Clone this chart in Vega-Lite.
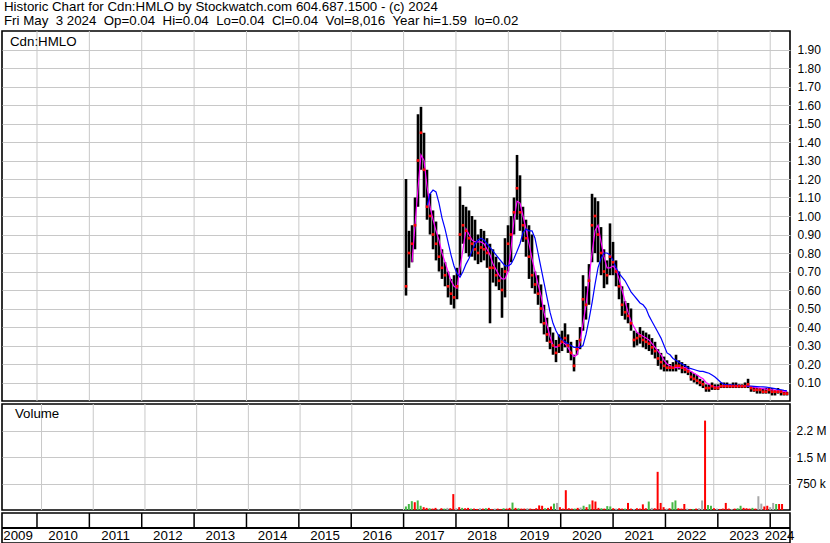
{
  "$schema": "https://vega.github.io/schema/vega-lite/v6.json",
  "padding": 0,
  "background": "white",
  "spacing": 3,
  "bounds": "flush",
  "title": {
    "text": ["Historic Chart for Cdn:HMLO by Stockwatch.com 604.687.1500 - (c) 2024", "Fri May\u00a0\u00a03 2024\u00a0\u00a0Op=0.04\u00a0\u00a0Hi=0.04\u00a0\u00a0Lo=0.04\u00a0\u00a0Cl=0.04\u00a0\u00a0Vol=8,016\u00a0\u00a0Year hi=1.59\u00a0\u00a0lo=0.02"],
    "anchor": "start", "frame": "group", "fontSize": 13.3, "fontWeight": "normal", "font": "Liberation Sans",
    "lineHeight": 14, "offset": 2, "dx": 2, "color": "#000000"
  },
  "datasets": {
    "px": [
      {"t":2017.046,"hi":1.20,"lo":0.57,"cl":0.62,"m1":null,"m2":null,"v":100000,"vc":"g"},
      {"t":2017.103,"hi":0.92,"lo":0.72,"cl":0.80,"m1":null,"m2":null,"v":170000,"vc":"g"},
      {"t":2017.161,"hi":0.95,"lo":0.75,"cl":0.85,"m1":0.75,"m2":null,"v":250000,"vc":"g"},
      {"t":2017.218,"hi":1.10,"lo":0.82,"cl":0.95,"m1":0.95,"m2":null,"v":220000,"vc":"r"},
      {"t":2017.275,"hi":1.55,"lo":1.05,"cl":1.30,"m1":1.15,"m2":null,"v":270000,"vc":"g"},
      {"t":2017.332,"hi":1.59,"lo":1.25,"cl":1.45,"m1":1.33,"m2":null,"v":120000,"vc":"g"},
      {"t":2017.390,"hi":1.45,"lo":1.10,"cl":1.25,"m1":1.30,"m2":null,"v":80000,"vc":"r"},
      {"t":2017.447,"hi":1.25,"lo":0.98,"cl":1.05,"m1":1.16,"m2":1.05,"v":60000,"vc":"r"},
      {"t":2017.504,"hi":1.12,"lo":0.90,"cl":1.00,"m1":1.05,"m2":1.12,"v":50000,"vc":"g"},
      {"t":2017.562,"hi":1.03,"lo":0.82,"cl":0.90,"m1":0.98,"m2":1.14,"v":40000,"vc":"r"},
      {"t":2017.619,"hi":0.97,"lo":0.76,"cl":0.85,"m1":0.92,"m2":1.13,"v":60000,"vc":"r"},
      {"t":2017.676,"hi":0.90,"lo":0.70,"cl":0.78,"m1":0.87,"m2":1.07,"v":30000,"vc":"n"},
      {"t":2017.733,"hi":0.82,"lo":0.66,"cl":0.72,"m1":0.80,"m2":0.99,"v":50000,"vc":"r"},
      {"t":2017.791,"hi":0.75,"lo":0.62,"cl":0.68,"m1":0.75,"m2":0.93,"v":40000,"vc":"g"},
      {"t":2017.848,"hi":0.70,"lo":0.56,"cl":0.62,"m1":0.70,"m2":0.86,"v":60000,"vc":"n"},
      {"t":2017.905,"hi":0.66,"lo":0.52,"cl":0.58,"m1":0.65,"m2":0.79,"v":50000,"vc":"r"},
      {"t":2017.963,"hi":0.68,"lo":0.50,"cl":0.56,"m1":0.62,"m2":0.73,"v":450000,"vc":"r"},
      {"t":2018.020,"hi":0.72,"lo":0.55,"cl":0.62,"m1":0.61,"m2":0.69,"v":50000,"vc":"n"},
      {"t":2018.077,"hi":1.16,"lo":0.68,"cl":0.90,"m1":0.72,"m2":0.67,"v":80000,"vc":"r"},
      {"t":2018.134,"hi":1.06,"lo":0.85,"cl":0.95,"m1":0.82,"m2":0.70,"v":60000,"vc":"g"},
      {"t":2018.192,"hi":1.05,"lo":0.80,"cl":0.92,"m1":0.93,"m2":0.74,"v":50000,"vc":"r"},
      {"t":2018.249,"hi":1.03,"lo":0.78,"cl":0.88,"m1":0.90,"m2":0.77,"v":60000,"vc":"r"},
      {"t":2018.306,"hi":1.00,"lo":0.78,"cl":0.85,"m1":0.87,"m2":0.81,"v":40000,"vc":"g"},
      {"t":2018.364,"hi":0.98,"lo":0.76,"cl":0.82,"m1":0.86,"m2":0.85,"v":40000,"vc":"r"},
      {"t":2018.421,"hi":0.90,"lo":0.74,"cl":0.80,"m1":0.86,"m2":0.87,"v":30000,"vc":"r"},
      {"t":2018.478,"hi":0.93,"lo":0.75,"cl":0.83,"m1":0.86,"m2":0.88,"v":50000,"vc":"n"},
      {"t":2018.535,"hi":0.92,"lo":0.76,"cl":0.82,"m1":0.85,"m2":0.87,"v":40000,"vc":"r"},
      {"t":2018.593,"hi":0.88,"lo":0.72,"cl":0.80,"m1":0.82,"m2":0.85,"v":50000,"vc":"g"},
      {"t":2018.650,"hi":0.85,"lo":0.42,"cl":0.72,"m1":0.79,"m2":0.83,"v":60000,"vc":"r"},
      {"t":2018.707,"hi":0.82,"lo":0.64,"cl":0.72,"m1":0.74,"m2":0.81,"v":30000,"vc":"r"},
      {"t":2018.765,"hi":0.78,"lo":0.62,"cl":0.68,"m1":0.71,"m2":0.79,"v":40000,"vc":"n"},
      {"t":2018.822,"hi":0.75,"lo":0.60,"cl":0.65,"m1":0.68,"m2":0.77,"v":40000,"vc":"r"},
      {"t":2018.879,"hi":0.72,"lo":0.45,"cl":0.60,"m1":0.66,"m2":0.75,"v":30000,"vc":"r"},
      {"t":2018.936,"hi":0.88,"lo":0.56,"cl":0.70,"m1":0.66,"m2":0.73,"v":50000,"vc":"g"},
      {"t":2018.994,"hi":0.95,"lo":0.70,"cl":0.85,"m1":0.70,"m2":0.73,"v":40000,"vc":"r"},
      {"t":2019.051,"hi":1.00,"lo":0.75,"cl":0.90,"m1":0.82,"m2":0.74,"v":60000,"vc":"r"},
      {"t":2019.108,"hi":1.10,"lo":0.90,"cl":1.02,"m1":0.98,"m2":0.77,"v":210000,"vc":"g"},
      {"t":2019.166,"hi":1.33,"lo":0.98,"cl":1.15,"m1":1.08,"m2":0.81,"v":60000,"vc":"r"},
      {"t":2019.223,"hi":1.22,"lo":0.92,"cl":1.02,"m1":1.07,"m2":0.85,"v":50000,"vc":"g"},
      {"t":2019.280,"hi":1.05,"lo":0.86,"cl":0.95,"m1":1.00,"m2":0.91,"v":40000,"vc":"r"},
      {"t":2019.337,"hi":0.98,"lo":0.78,"cl":0.88,"m1":0.93,"m2":0.93,"v":40000,"vc":"r"},
      {"t":2019.395,"hi":0.95,"lo":0.66,"cl":0.78,"m1":0.85,"m2":0.92,"v":50000,"vc":"n"},
      {"t":2019.452,"hi":0.90,"lo":0.61,"cl":0.68,"m1":0.77,"m2":0.92,"v":40000,"vc":"r"},
      {"t":2019.509,"hi":0.70,"lo":0.58,"cl":0.63,"m1":0.70,"m2":0.88,"v":30000,"vc":"r"},
      {"t":2019.567,"hi":0.68,"lo":0.52,"cl":0.58,"m1":0.63,"m2":0.80,"v":50000,"vc":"r"},
      {"t":2019.624,"hi":0.63,"lo":0.42,"cl":0.50,"m1":0.57,"m2":0.72,"v":130000,"vc":"r"},
      {"t":2019.681,"hi":0.52,"lo":0.36,"cl":0.42,"m1":0.48,"m2":0.64,"v":120000,"vc":"r"},
      {"t":2019.738,"hi":0.45,"lo":0.32,"cl":0.36,"m1":0.41,"m2":0.56,"v":50000,"vc":"g"},
      {"t":2019.796,"hi":0.40,"lo":0.28,"cl":0.32,"m1":0.35,"m2":0.48,"v":60000,"vc":"r"},
      {"t":2019.853,"hi":0.37,"lo":0.25,"cl":0.30,"m1":0.30,"m2":0.42,"v":100000,"vc":"r"},
      {"t":2019.910,"hi":0.33,"lo":0.21,"cl":0.26,"m1":0.29,"m2":0.38,"v":180000,"vc":"g"},
      {"t":2019.968,"hi":0.36,"lo":0.26,"cl":0.30,"m1":0.30,"m2":0.35,"v":200000,"vc":"n"},
      {"t":2020.025,"hi":0.38,"lo":0.27,"cl":0.32,"m1":0.32,"m2":0.33,"v":80000,"vc":"r"},
      {"t":2020.082,"hi":0.42,"lo":0.29,"cl":0.34,"m1":0.31,"m2":0.32,"v":40000,"vc":"r"},
      {"t":2020.139,"hi":0.36,"lo":0.26,"cl":0.30,"m1":0.29,"m2":0.31,"v":560000,"vc":"r"},
      {"t":2020.197,"hi":0.32,"lo":0.22,"cl":0.26,"m1":0.26,"m2":0.30,"v":50000,"vc":"r"},
      {"t":2020.254,"hi":0.25,"lo":0.16,"cl":0.19,"m1":0.24,"m2":0.29,"v":40000,"vc":"r"},
      {"t":2020.311,"hi":0.33,"lo":0.25,"cl":0.28,"m1":0.25,"m2":0.29,"v":40000,"vc":"g"},
      {"t":2020.369,"hi":0.40,"lo":0.28,"cl":0.33,"m1":0.32,"m2":0.29,"v":60000,"vc":"r"},
      {"t":2020.426,"hi":0.68,"lo":0.38,"cl":0.55,"m1":0.42,"m2":0.30,"v":70000,"vc":"n"},
      {"t":2020.483,"hi":0.62,"lo":0.44,"cl":0.52,"m1":0.52,"m2":0.36,"v":120000,"vc":"g"},
      {"t":2020.540,"hi":0.74,"lo":0.52,"cl":0.65,"m1":0.66,"m2":0.44,"v":80000,"vc":"r"},
      {"t":2020.598,"hi":1.12,"lo":0.75,"cl":0.95,"m1":0.80,"m2":0.53,"v":160000,"vc":"g"},
      {"t":2020.655,"hi":1.10,"lo":0.80,"cl":1.00,"m1":0.92,"m2":0.63,"v":270000,"vc":"r"},
      {"t":2020.712,"hi":1.08,"lo":0.75,"cl":0.90,"m1":0.95,"m2":0.72,"v":240000,"vc":"r"},
      {"t":2020.770,"hi":0.94,"lo":0.68,"cl":0.80,"m1":0.86,"m2":0.77,"v":60000,"vc":"r"},
      {"t":2020.827,"hi":0.82,"lo":0.61,"cl":0.70,"m1":0.78,"m2":0.80,"v":50000,"vc":"g"},
      {"t":2020.884,"hi":0.76,"lo":0.63,"cl":0.68,"m1":0.72,"m2":0.80,"v":40000,"vc":"r"},
      {"t":2020.941,"hi":0.96,"lo":0.68,"cl":0.78,"m1":0.72,"m2":0.79,"v":110000,"vc":"g"},
      {"t":2020.999,"hi":0.86,"lo":0.68,"cl":0.75,"m1":0.73,"m2":0.76,"v":100000,"vc":"g"},
      {"t":2021.056,"hi":0.76,"lo":0.62,"cl":0.70,"m1":0.71,"m2":0.72,"v":50000,"vc":"r"},
      {"t":2021.113,"hi":0.70,"lo":0.55,"cl":0.62,"m1":0.66,"m2":0.69,"v":40000,"vc":"n"},
      {"t":2021.171,"hi":0.62,"lo":0.46,"cl":0.52,"m1":0.60,"m2":0.67,"v":50000,"vc":"r"},
      {"t":2021.228,"hi":0.54,"lo":0.44,"cl":0.48,"m1":0.54,"m2":0.65,"v":40000,"vc":"r"},
      {"t":2021.285,"hi":0.53,"lo":0.42,"cl":0.46,"m1":0.48,"m2":0.62,"v":40000,"vc":"g"},
      {"t":2021.342,"hi":0.50,"lo":0.38,"cl":0.42,"m1":0.43,"m2":0.59,"v":200000,"vc":"r"},
      {"t":2021.400,"hi":0.38,"lo":0.29,"cl":0.33,"m1":0.40,"m2":0.57,"v":40000,"vc":"r"},
      {"t":2021.457,"hi":0.37,"lo":0.30,"cl":0.34,"m1":0.37,"m2":0.55,"v":30000,"vc":"n"},
      {"t":2021.514,"hi":0.40,"lo":0.31,"cl":0.35,"m1":0.36,"m2":0.53,"v":50000,"vc":"r"},
      {"t":2021.572,"hi":0.38,"lo":0.29,"cl":0.33,"m1":0.35,"m2":0.52,"v":40000,"vc":"r"},
      {"t":2021.629,"hi":0.37,"lo":0.28,"cl":0.32,"m1":0.34,"m2":0.50,"v":160000,"vc":"r"},
      {"t":2021.686,"hi":0.36,"lo":0.27,"cl":0.31,"m1":0.33,"m2":0.46,"v":50000,"vc":"r"},
      {"t":2021.743,"hi":0.34,"lo":0.25,"cl":0.29,"m1":0.31,"m2":0.43,"v":240000,"vc":"g"},
      {"t":2021.801,"hi":0.32,"lo":0.23,"cl":0.27,"m1":0.29,"m2":0.40,"v":60000,"vc":"n"},
      {"t":2021.858,"hi":0.28,"lo":0.19,"cl":0.23,"m1":0.27,"m2":0.37,"v":50000,"vc":"r"},
      {"t":2021.915,"hi":0.26,"lo":0.17,"cl":0.21,"m1":0.25,"m2":0.34,"v":1080000,"vc":"r"},
      {"t":2021.973,"hi":0.24,"lo":0.16,"cl":0.19,"m1":0.22,"m2":0.30,"v":200000,"vc":"r"},
      {"t":2022.030,"hi":0.22,"lo":0.16,"cl":0.18,"m1":0.20,"m2":0.26,"v":80000,"vc":"r"},
      {"t":2022.087,"hi":0.20,"lo":0.16,"cl":0.18,"m1":0.19,"m2":0.25,"v":40000,"vc":"n"},
      {"t":2022.144,"hi":0.21,"lo":0.16,"cl":0.18,"m1":0.18,"m2":0.23,"v":50000,"vc":"r"},
      {"t":2022.202,"hi":0.25,"lo":0.16,"cl":0.19,"m1":0.18,"m2":0.22,"v":220000,"vc":"g"},
      {"t":2022.259,"hi":0.22,"lo":0.17,"cl":0.19,"m1":0.18,"m2":0.21,"v":270000,"vc":"g"},
      {"t":2022.316,"hi":0.21,"lo":0.15,"cl":0.18,"m1":0.18,"m2":0.20,"v":50000,"vc":"r"},
      {"t":2022.374,"hi":0.20,"lo":0.15,"cl":0.17,"m1":0.18,"m2":0.19,"v":40000,"vc":"r"},
      {"t":2022.431,"hi":0.19,"lo":0.14,"cl":0.16,"m1":0.17,"m2":0.18,"v":170000,"vc":"r"},
      {"t":2022.488,"hi":0.16,"lo":0.11,"cl":0.13,"m1":0.16,"m2":0.175,"v":40000,"vc":"n"},
      {"t":2022.545,"hi":0.15,"lo":0.10,"cl":0.12,"m1":0.15,"m2":0.17,"v":30000,"vc":"r"},
      {"t":2022.603,"hi":0.14,"lo":0.09,"cl":0.11,"m1":0.14,"m2":0.165,"v":30000,"vc":"g"},
      {"t":2022.660,"hi":0.12,"lo":0.08,"cl":0.10,"m1":0.13,"m2":0.16,"v":40000,"vc":"r"},
      {"t":2022.717,"hi":0.11,"lo":0.07,"cl":0.09,"m1":0.12,"m2":0.16,"v":50000,"vc":"n"},
      {"t":2022.775,"hi":0.09,"lo":0.05,"cl":0.07,"m1":0.10,"m2":0.155,"v":270000,"vc":"n"},
      {"t":2022.832,"hi":0.09,"lo":0.05,"cl":0.07,"m1":0.09,"m2":0.15,"v":2530000,"vc":"r"},
      {"t":2022.889,"hi":0.10,"lo":0.06,"cl":0.08,"m1":0.08,"m2":0.14,"v":140000,"vc":"g"},
      {"t":2022.946,"hi":0.09,"lo":0.06,"cl":0.07,"m1":0.075,"m2":0.13,"v":120000,"vc":"g"},
      {"t":2023.004,"hi":0.09,"lo":0.06,"cl":0.07,"m1":0.075,"m2":0.115,"v":50000,"vc":"r"},
      {"t":2023.061,"hi":0.10,"lo":0.07,"cl":0.08,"m1":0.08,"m2":0.10,"v":40000,"vc":"n"},
      {"t":2023.118,"hi":0.10,"lo":0.07,"cl":0.08,"m1":0.08,"m2":0.09,"v":30000,"vc":"r"},
      {"t":2023.176,"hi":0.10,"lo":0.07,"cl":0.08,"m1":0.08,"m2":0.088,"v":40000,"vc":"r"},
      {"t":2023.233,"hi":0.09,"lo":0.07,"cl":0.08,"m1":0.08,"m2":0.087,"v":200000,"vc":"r"},
      {"t":2023.290,"hi":0.10,"lo":0.07,"cl":0.08,"m1":0.08,"m2":0.086,"v":40000,"vc":"r"},
      {"t":2023.347,"hi":0.10,"lo":0.07,"cl":0.08,"m1":0.08,"m2":0.085,"v":30000,"vc":"n"},
      {"t":2023.405,"hi":0.09,"lo":0.07,"cl":0.08,"m1":0.08,"m2":0.084,"v":40000,"vc":"r"},
      {"t":2023.462,"hi":0.09,"lo":0.07,"cl":0.08,"m1":0.08,"m2":0.083,"v":50000,"vc":"g"},
      {"t":2023.519,"hi":0.10,"lo":0.07,"cl":0.08,"m1":0.08,"m2":0.082,"v":120000,"vc":"g"},
      {"t":2023.577,"hi":0.12,"lo":0.07,"cl":0.09,"m1":0.08,"m2":0.081,"v":60000,"vc":"r"},
      {"t":2023.634,"hi":0.08,"lo":0.05,"cl":0.07,"m1":0.078,"m2":0.08,"v":50000,"vc":"r"},
      {"t":2023.691,"hi":0.08,"lo":0.05,"cl":0.06,"m1":0.075,"m2":0.079,"v":40000,"vc":"r"},
      {"t":2023.748,"hi":0.07,"lo":0.04,"cl":0.06,"m1":0.072,"m2":0.078,"v":60000,"vc":"g"},
      {"t":2023.806,"hi":0.07,"lo":0.04,"cl":0.06,"m1":0.07,"m2":0.077,"v":40000,"vc":"r"},
      {"t":2023.863,"hi":0.07,"lo":0.04,"cl":0.05,"m1":0.067,"m2":0.076,"v":390000,"vc":"n"},
      {"t":2023.920,"hi":0.07,"lo":0.04,"cl":0.05,"m1":0.064,"m2":0.075,"v":180000,"vc":"n"},
      {"t":2023.978,"hi":0.07,"lo":0.04,"cl":0.06,"m1":0.062,"m2":0.073,"v":100000,"vc":"r"},
      {"t":2024.035,"hi":0.07,"lo":0.03,"cl":0.05,"m1":0.06,"m2":0.07,"v":120000,"vc":"r"},
      {"t":2024.092,"hi":0.06,"lo":0.03,"cl":0.05,"m1":0.058,"m2":0.067,"v":80000,"vc":"n"},
      {"t":2024.149,"hi":0.07,"lo":0.04,"cl":0.05,"m1":0.056,"m2":0.063,"v":200000,"vc":"n"},
      {"t":2024.207,"hi":0.06,"lo":0.03,"cl":0.05,"m1":0.054,"m2":0.06,"v":170000,"vc":"g"},
      {"t":2024.264,"hi":0.05,"lo":0.03,"cl":0.04,"m1":0.052,"m2":0.057,"v":170000,"vc":"r"},
      {"t":2024.321,"hi":0.05,"lo":0.03,"cl":0.04,"m1":0.05,"m2":0.055,"v":170000,"vc":"r"}
    ],
    "yrs": [{"y":2010},{"y":2011},{"y":2012},{"y":2013},{"y":2014},{"y":2015},{"y":2016},{"y":2017},{"y":2018},{"y":2019},{"y":2020},{"y":2021},{"y":2022},{"y":2023},{"y":2024}],
    "labs": [{"lab":"2009","m":2009.64},{"lab":"2010","m":2010.5},{"lab":"2011","m":2011.5},{"lab":"2012","m":2012.5},{"lab":"2013","m":2013.5},{"lab":"2014","m":2014.5},{"lab":"2015","m":2015.5},{"lab":"2016","m":2016.5},{"lab":"2017","m":2017.5},{"lab":"2018","m":2018.5},{"lab":"2019","m":2019.5},{"lab":"2020","m":2020.5},{"lab":"2021","m":2021.5},{"lab":"2022","m":2022.5},{"lab":"2023","m":2023.5},{"lab":"2024","m":2024.18}],
    "tags": [{"lbl":"Cdn:HMLO","tx":2009.485,"ty":1.94}],
    "vtag": [{"lbl":"Volume","tx":2009.485,"ty":2720000}]
  },
  "vconcat": [
    {
      "width": 788, "height": 370,
      "layer": [
        {"data": {"name": "yrs"},
         "mark": {"type": "rule", "color": "#c8c8c8", "strokeWidth": 1},
         "encoding": {"x": {"field": "y", "type": "quantitative", "title": null,
           "scale": {"domain": [2009.332, 2024.378], "nice": false, "zero": false}, "axis": null}}},
        {"data": {"name": "px"},
         "mark": {"type": "rule", "color": "#000000", "strokeWidth": 2.6},
         "encoding": {
           "x": {"field": "t", "type": "quantitative", "title": null, "axis": null},
           "y": {"field": "hi", "type": "quantitative", "title": null,
             "scale": {"domain": [0, 2], "nice": false, "zero": true},
             "axis": {"orient": "right", "values": [0.1,0.2,0.3,0.4,0.5,0.6,0.7,0.8,0.9,1.0,1.1,1.2,1.3,1.4,1.5,1.6,1.7,1.8,1.9], "tickCount": 25, "format": ".2f", "grid": true, "ticks": false, "tickSize": 0, "domain": false, "labelPadding": 7, "labelOverlap": false, "title": null}},
           "y2": {"field": "lo"}}},
        {"data": {"name": "px"},
         "mark": {"type": "line", "color": "#ff00ff", "strokeWidth": 1.2},
         "encoding": {"x": {"field": "t", "type": "quantitative", "title": null, "axis": null}, "y": {"field": "m1", "type": "quantitative", "title": null}}},
        {"data": {"name": "px"},
         "mark": {"type": "line", "color": "#0000ff", "strokeWidth": 1.2},
         "encoding": {"x": {"field": "t", "type": "quantitative", "title": null, "axis": null}, "y": {"field": "m2", "type": "quantitative", "title": null}}},
        {"data": {"name": "px"},
         "mark": {"type": "square", "color": "#ff0000", "size": 7, "opacity": 1, "filled": true},
         "encoding": {"x": {"field": "t", "type": "quantitative", "title": null, "axis": null}, "y": {"field": "cl", "type": "quantitative", "title": null}}},
        {"data": {"name": "tags"},
         "mark": {"type": "text", "fontSize": 13.3, "font": "Liberation Sans", "align": "left", "baseline": "middle", "color": "#000000"},
         "encoding": {"x": {"field": "tx", "type": "quantitative", "title": null, "axis": null}, "y": {"field": "ty", "type": "quantitative", "title": null}, "text": {"field": "lbl"}}}
      ]
    },
    {
      "width": 788, "height": 106,
      "layer": [
        {"data": {"name": "yrs"},
         "mark": {"type": "rule", "color": "#c8c8c8", "strokeWidth": 1},
         "encoding": {"x": {"field": "y", "type": "quantitative", "title": null,
           "scale": {"domain": [2009.332, 2024.378], "nice": false, "zero": false}, "axis": null}}},
        {"data": {"name": "px"},
         "mark": {"type": "bar", "size": 2},
         "encoding": {
           "x": {"field": "t", "type": "quantitative", "title": null, "axis": null},
           "y": {"field": "v", "type": "quantitative", "title": null,
             "scale": {"domain": [0, 3000000], "nice": false},
             "axis": {"orient": "right", "values": [750000, 1500000, 2250000], "tickCount": 10, "labelExpr": "datum.value == 750000 ? '750 k' : (datum.value == 1500000 ? '1.5 M' : '2.2 M')", "grid": true, "ticks": false, "tickSize": 0, "domain": false, "labelPadding": 6, "labelOverlap": false, "title": null}},
           "color": {"field": "vc", "type": "nominal", "scale": {"domain": ["g", "r", "n"], "range": ["#44b844", "#ff0000", "#a8a8a8"]}, "legend": null}}},
        {"data": {"name": "vtag"},
         "mark": {"type": "text", "fontSize": 13.3, "font": "Liberation Sans", "align": "left", "baseline": "middle", "color": "#000000"},
         "encoding": {"x": {"field": "tx", "type": "quantitative", "title": null, "axis": null}, "y": {"field": "ty", "type": "quantitative", "title": null}, "text": {"field": "lbl"}}}
      ]
    },
    {
      "width": 788, "height": 30,
      "layer": [
        {"data": {"name": "yrs"},
         "mark": {"type": "rule", "color": "#000000", "strokeWidth": 1.5},
         "encoding": {
           "x": {"field": "y", "type": "quantitative", "title": null, "scale": {"domain": [2009.332, 2024.378], "nice": false, "zero": false}, "axis": null},
           "y": {"datum": 15, "type": "quantitative", "scale": {"domain": [0, 30], "nice": false}, "axis": null},
           "y2": {"datum": 30}}},
        {"data": {"values": [{"k": 1}]},
         "mark": {"type": "rule", "color": "#000000", "strokeWidth": 2},
         "encoding": {"y": {"datum": 15, "type": "quantitative"}}},
        {"data": {"name": "labs"},
         "mark": {"type": "text", "fontSize": 13.3, "font": "Liberation Sans", "baseline": "middle", "align": "center", "color": "#000000"},
         "encoding": {
           "x": {"field": "m", "type": "quantitative"},
           "y": {"datum": 7.5, "type": "quantitative"},
           "text": {"field": "lab"}}}
      ]
    }
  ],
  "config": {
    "view": {"stroke": "#000000", "strokeWidth": 1.6},
    "axis": {"gridColor": "#c8c8c8", "gridWidth": 1, "gridOpacity": 1, "labelFont": "Liberation Sans", "labelFontSize": 12, "labelColor": "#000000"},
    "text": {"font": "Liberation Sans"}
  }
}
